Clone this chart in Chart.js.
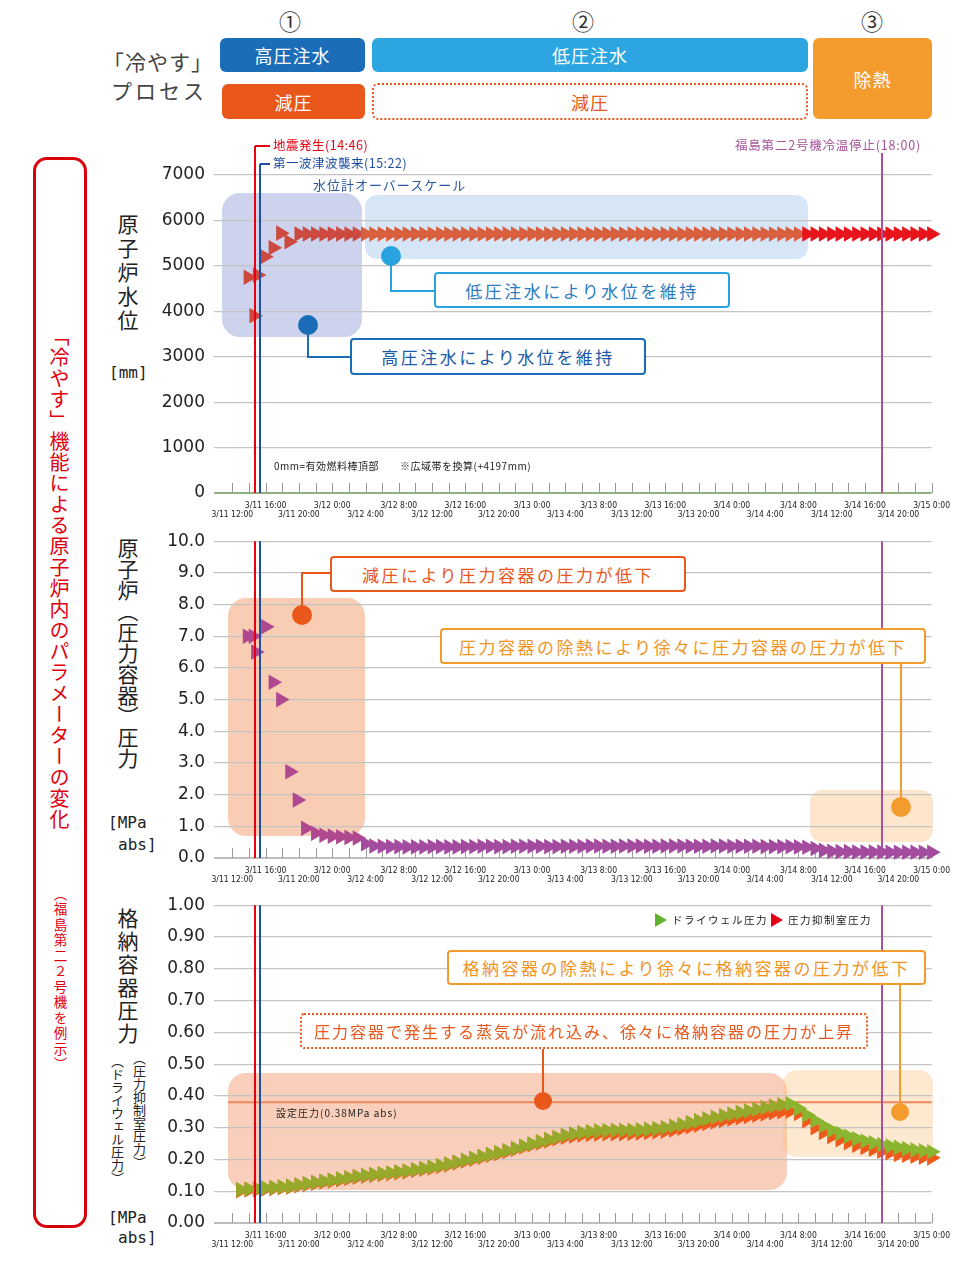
<!DOCTYPE html>
<html lang="ja">
<head>
<meta charset="utf-8">
<script src="https://cdn.jsdelivr.net/npm/chart.js@4.4.0/dist/chart.umd.min.js"></script>
<style>
body{margin:0;background:#fff;font-family:"Noto Sans CJK JP",sans-serif;}
#page{position:relative;width:980px;height:1274px;overflow:hidden;}
#page div{position:absolute;line-height:1;white-space:nowrap;}
canvas{position:absolute;z-index:1;}
.bg{z-index:0;}
.hb{color:#fff;font-size:18px;letter-spacing:1px;border-radius:6px;display:flex;align-items:center;justify-content:center;box-sizing:border-box;}
.cb{background:#fff;border:2px solid;border-radius:4px;font-size:17px;letter-spacing:2.5px;display:flex;align-items:center;justify-content:center;box-sizing:border-box;z-index:2;}
.vt{writing-mode:vertical-rl;text-orientation:mixed;}
.mono{font-family:"DejaVu Sans Mono",monospace;font-size:16px;color:#222;}
.dot{border-radius:50%;z-index:2;}
.ln{z-index:2;}
.sm{font-size:12.5px;letter-spacing:0.5px;z-index:2;}
</style>
</head>
<body>
<div id="page">
  <!-- header -->
  <div style="left:103px;top:51px;font-size:21px;color:#444;letter-spacing:1px;">「冷やす」</div>
  <div style="left:111px;top:80px;font-size:21px;color:#444;letter-spacing:3px;">プロセス</div>
  <div style="left:270px;top:9px;width:40px;text-align:center;font-size:22px;color:#333;">①</div>
  <div style="left:563px;top:9px;width:40px;text-align:center;font-size:22px;color:#333;">②</div>
  <div style="left:852px;top:9px;width:40px;text-align:center;font-size:22px;color:#333;">③</div>
  <div class="hb" style="left:220px;top:38px;width:145px;height:34px;background:#1b6db7;">高圧注水</div>
  <div class="hb" style="left:372px;top:38px;width:436px;height:34px;background:#2ca5e0;">低圧注水</div>
  <div class="hb" style="left:813px;top:38px;width:119px;height:81px;background:#f39b2d;">除熱</div>
  <div class="hb" style="left:222px;top:84px;width:143px;height:35px;background:#e9571b;">減圧</div>
  <div class="hb" style="left:372px;top:83px;width:436px;height:37px;background:#fff;border:2px dotted #e9571b;color:#e9571b;">減圧</div>

  <!-- left frame -->
  <div style="left:33px;top:157px;width:54px;height:1071px;border:3px solid #d9000d;border-radius:14px;box-sizing:border-box;"></div>
  <div class="vt" style="left:49px;top:326px;font-size:20px;color:#e0000f;letter-spacing:1px;">「冷やす」機能による原子炉内のパラメーターの変化</div>
  <div class="vt" style="left:53px;top:887px;font-size:13.5px;color:#e0000f;letter-spacing:2px;">（福島第二２号機を例示）</div>

  <!-- axis titles -->
  <div class="vt" style="left:117px;top:214px;font-size:21px;color:#222;letter-spacing:3px;">原子炉水位</div>
  <div class="mono" style="left:109px;top:365px;">[mm]</div>
  <div class="vt" style="left:117px;top:538px;font-size:21px;color:#222;">原子炉（圧力容器）圧力</div>
  <div class="mono" style="left:108px;top:815px;">[MPa</div>
  <div class="mono" style="left:118px;top:837px;">abs]</div>
  <div class="vt" style="left:117px;top:908px;font-size:21px;color:#222;letter-spacing:2px;">格納容器圧力</div>
  <div class="vt" style="left:133px;top:1052px;font-size:13px;color:#222;">（圧力抑制室圧力）</div>
  <div class="vt" style="left:111px;top:1055px;font-size:13px;color:#222;">（ドライウェル圧力）</div>
  <div class="mono" style="left:108px;top:1210px;">[MPa</div>
  <div class="mono" style="left:118px;top:1230px;">abs]</div>

  <!-- background regions -->
  <div class="bg" style="left:222px;top:193px;width:140px;height:144px;background:#cdd3ec;border-radius:18px;"></div>
  <div class="bg" style="left:365px;top:195px;width:443px;height:64px;background:#d7e6f6;border-radius:12px;"></div>
  <div class="bg" style="left:228px;top:598px;width:137px;height:238px;background:#f8cdb4;border-radius:18px;"></div>
  <div class="bg" style="left:810px;top:790px;width:123px;height:52px;background:#fde6cc;border-radius:12px;"></div>
  <div class="bg" style="left:228px;top:1073px;width:559px;height:117px;background:rgba(240,130,80,0.38);border-radius:18px;"></div>
  <div class="bg" style="left:783px;top:1070px;width:150px;height:87px;background:rgba(250,190,120,0.35);border-radius:14px;"></div>

  <canvas id="c1" width="800" height="396" style="left:150px;top:135px;"></canvas>
  <canvas id="c2" width="800" height="370" style="left:150px;top:526px;"></canvas>
  <canvas id="c3" width="800" height="371" style="left:150px;top:890px;"></canvas>

  <!-- chart 1 notes -->
  <div class="sm" style="left:273px;top:139px;color:#e60012;">地震発生(14:46)</div>
  <div class="sm" style="left:273px;top:157px;color:#1f4fa3;">第一波津波襲来(15:22)</div>
  <div class="sm" style="right:59px;top:139px;color:#a8529e;letter-spacing:0.8px;">福島第二2号機冷温停止(18:00)</div>
  <div class="sm" style="left:313px;top:178px;color:#2a56a0;font-size:13px;letter-spacing:1px;">水位計オーバースケール</div>
  <div class="sm" style="left:274px;top:461px;color:#222;font-size:10px;">0mm=有効燃料棒頂部</div>
  <div class="sm" style="left:400px;top:461px;color:#222;font-size:10px;">※広域帯を換算(+4197mm)</div>

  <div class="ln" style="left:390px;top:256px;width:2px;height:36px;background:#29a3df;"></div>
  <div class="ln" style="left:390px;top:290px;width:45px;height:2px;background:#29a3df;"></div>
  <div class="dot" style="left:381px;top:246px;width:20px;height:20px;background:#29a3df;"></div>
  <div class="cb" style="left:434px;top:272px;width:296px;height:36px;border-color:#29a3df;color:#2a7cc0;">低圧注水により水位を維持</div>

  <div class="ln" style="left:307px;top:325px;width:2px;height:33px;background:#1b6db7;"></div>
  <div class="ln" style="left:307px;top:356px;width:44px;height:2px;background:#1b6db7;"></div>
  <div class="dot" style="left:298px;top:315px;width:20px;height:20px;background:#1b6db7;"></div>
  <div class="cb" style="left:350px;top:338px;width:296px;height:37px;border-color:#1b6db7;color:#1b5aa5;">高圧注水により水位を維持</div>

  <!-- chart 2 notes -->
  <div class="ln" style="left:301px;top:572px;width:2px;height:43px;background:#e9571b;"></div>
  <div class="ln" style="left:301px;top:572px;width:30px;height:2px;background:#e9571b;"></div>
  <div class="dot" style="left:292px;top:605px;width:20px;height:20px;background:#e9571b;"></div>
  <div class="cb" style="left:330px;top:556px;width:356px;height:36px;border-color:#e9571b;color:#e9571b;">減圧により圧力容器の圧力が低下</div>

  <div class="ln" style="left:900px;top:663px;width:2px;height:144px;background:#f39b2d;"></div>
  <div class="dot" style="left:891px;top:797px;width:20px;height:20px;background:#f39b2d;"></div>
  <div class="cb" style="left:440px;top:628px;width:486px;height:36px;border-color:#f39b2d;color:#f0941f;">圧力容器の除熱により徐々に圧力容器の圧力が低下</div>

  <!-- chart 3 notes -->
  <div style="left:655px;top:913px;width:0;height:0;border-left:12px solid #62b22f;border-top:7px solid transparent;border-bottom:7px solid transparent;z-index:2;"></div>
  <div class="sm" style="left:672px;top:915px;color:#222;font-size:10.5px;letter-spacing:1.5px;">ドライウェル圧力</div>
  <div style="left:771px;top:913px;width:0;height:0;border-left:12px solid #e60012;border-top:7px solid transparent;border-bottom:7px solid transparent;z-index:2;"></div>
  <div class="sm" style="left:788px;top:915px;color:#222;font-size:10.5px;letter-spacing:1.5px;">圧力抑制室圧力</div>

  <div class="ln" style="left:899px;top:984px;width:2px;height:128px;background:#f39b2d;"></div>
  <div class="dot" style="left:891px;top:1103px;width:18px;height:18px;background:#f39b2d;"></div>
  <div class="cb" style="left:447px;top:950px;width:479px;height:35px;border-color:#f39b2d;color:#f0941f;">格納容器の除熱により徐々に格納容器の圧力が低下</div>

  <div class="ln" style="left:542px;top:1048px;width:2px;height:53px;background:#e9571b;"></div>
  <div class="dot" style="left:534px;top:1092px;width:18px;height:18px;background:#e9571b;"></div>
  <div class="cb" style="left:300px;top:1013px;width:568px;height:36px;border:2px dotted #e9571b;color:#e9571b;font-size:16px;letter-spacing:2px;">圧力容器で発生する蒸気が流れ込み、徐々に格納容器の圧力が上昇</div>
  <div class="sm" style="left:276px;top:1108px;color:#222;font-size:10px;letter-spacing:1px;">設定圧力(0.38MPa abs)</div>
</div>

<script>
// x values are hours after 3/11 12:00
var tickLabels = ['3/11 12:00', '3/11 16:00', '3/11 20:00', '3/12 0:00', '3/12 4:00', '3/12 8:00',
  '3/12 12:00', '3/12 16:00', '3/12 20:00', '3/13 0:00', '3/13 4:00', '3/13 8:00', '3/13 12:00',
  '3/13 16:00', '3/13 20:00', '3/14 0:00', '3/14 4:00', '3/14 8:00', '3/14 12:00', '3/14 16:00',
  '3/14 20:00', '3/15 0:00'];
var eventHours = [2.77, 3.37, 78]; // 14:46 quake, 15:22 tsunami, 3/14 18:00 cold shutdown

// reactor water level [mm]
var levelHours = [1.9, 2.6, 3.0, 3.9, 4.9, 5.8, 6.8];
var levelValues = [4750, 3900, 4800, 5200, 5400, 5720, 5530];
var levelHourlyFrom = 8;
var levelHourly = [
  5700, 5700, 5700, 5700, 5700, 5700, 5700, 5700, 5700, 5700,
  5700, 5700, 5700, 5700, 5700, 5700, 5700, 5700, 5700, 5700,
  5700, 5700, 5700, 5700, 5700, 5700, 5700, 5700, 5700, 5700,
  5700, 5700, 5700, 5700, 5700, 5700, 5700, 5700, 5700, 5700,
  5700, 5700, 5700, 5700, 5700, 5700, 5700, 5700, 5700, 5700,
  5700, 5700, 5700, 5700, 5700, 5700, 5700, 5700, 5700, 5700,
  5700, 5700, 5700, 5700, 5700, 5700, 5700, 5700, 5700, 5700,
  5700, 5700, 5700, 5700, 5700, 5700, 5700];

// reactor (pressure vessel) pressure [MPa abs]
var rpvHours = [1.8, 2.5, 2.8, 4.0, 4.9, 5.8, 6.9, 7.8, 8.8];
var rpvValues = [7.0, 7.0, 6.5, 7.3, 5.55, 5.0, 2.72, 1.83, 0.94];
var rpvHourlyFrom = 10;
var rpvHourly = [
  0.78, 0.72, 0.69, 0.67, 0.65, 0.63, 0.45, 0.38, 0.37, 0.36,
  0.36, 0.35, 0.35, 0.35, 0.36, 0.36, 0.35, 0.35, 0.36, 0.36,
  0.37, 0.37, 0.36, 0.36, 0.37, 0.37, 0.37, 0.37, 0.36, 0.36,
  0.37, 0.37, 0.37, 0.38, 0.38, 0.37, 0.37, 0.38, 0.38, 0.38,
  0.37, 0.37, 0.38, 0.38, 0.38, 0.37, 0.37, 0.37, 0.38, 0.38,
  0.37, 0.37, 0.37, 0.37, 0.36, 0.36, 0.36, 0.36, 0.35, 0.34,
  0.30, 0.24, 0.21, 0.20, 0.20, 0.19, 0.19, 0.19, 0.19, 0.18,
  0.18, 0.18, 0.18, 0.18, 0.18];

// containment pressure [MPa abs], hourly from 3/11 13:00
var pcvHourlyFrom = 1;
var drywell = [
  0.105, 0.107, 0.108, 0.110, 0.112, 0.114, 0.116, 0.120, 0.124, 0.128,
  0.132, 0.135, 0.139, 0.143, 0.147, 0.150, 0.153, 0.156, 0.158, 0.161,
  0.164, 0.168, 0.172, 0.176, 0.181, 0.186, 0.192, 0.198, 0.204, 0.210,
  0.216, 0.222, 0.228, 0.235, 0.242, 0.249, 0.256, 0.263, 0.270, 0.276,
  0.281, 0.285, 0.288, 0.290, 0.291, 0.292, 0.292, 0.292, 0.293, 0.295,
  0.297, 0.300, 0.305, 0.310, 0.316, 0.322, 0.328, 0.333, 0.338, 0.343,
  0.348, 0.353, 0.358, 0.363, 0.368, 0.372, 0.375, 0.360, 0.340, 0.322,
  0.306, 0.292, 0.282, 0.273, 0.265, 0.258, 0.252, 0.247, 0.242, 0.238,
  0.234, 0.230, 0.227, 0.224];
var wetwell = [
  0.102, 0.104, 0.105, 0.107, 0.109, 0.111, 0.113, 0.117, 0.121, 0.125,
  0.129, 0.132, 0.136, 0.140, 0.144, 0.147, 0.150, 0.153, 0.155, 0.158,
  0.161, 0.165, 0.169, 0.173, 0.178, 0.183, 0.189, 0.195, 0.201, 0.207,
  0.213, 0.219, 0.225, 0.232, 0.239, 0.246, 0.252, 0.258, 0.265, 0.270,
  0.274, 0.277, 0.279, 0.280, 0.281, 0.281, 0.281, 0.282, 0.283, 0.285,
  0.287, 0.289, 0.293, 0.298, 0.303, 0.308, 0.313, 0.318, 0.323, 0.327,
  0.331, 0.335, 0.339, 0.343, 0.347, 0.350, 0.352, 0.345, 0.322, 0.300,
  0.285, 0.272, 0.262, 0.253, 0.245, 0.238, 0.232, 0.226, 0.221, 0.216,
  0.213, 0.210, 0.207, 0.205];

function pts(hours, vals) {
  return vals.map(function (v, i) { return {x: hours[i], y: v}; });
}
function hourly(from, vals) {
  return vals.map(function (v, i) { return {x: from + i, y: v}; });
}

var lineColors = ['#e60012', '#1f4fa3', '#a8529e'];

var overlay = {
  id: 'overlay',
  beforeDatasetsDraw: function (chart, args, opts) {
    var ctx = chart.ctx, a = chart.chartArea, x = chart.scales.x, y = chart.scales.y;
    ctx.save();
    if (opts.setpoint != null) {
      var py = y.getPixelForValue(opts.setpoint);
      ctx.strokeStyle = '#f0875a';
      ctx.lineWidth = 2;
      ctx.beginPath();
      ctx.moveTo(a.left + 14, py);
      ctx.lineTo(a.right, py);
      ctx.stroke();
    }
    // small ticks inside the plot, every 2 hours
    ctx.strokeStyle = '#9a9a9a';
    ctx.lineWidth = 1;
    for (var h = 0; h <= 84; h += 2) {
      var px = Math.round(x.getPixelForValue(h)) + 0.5;
      ctx.beginPath();
      ctx.moveTo(px, a.bottom - 10);
      ctx.lineTo(px, a.bottom);
      ctx.stroke();
    }
    ctx.restore();
  },
  afterDatasetsDraw: function (chart, args, opts) {
    var ctx = chart.ctx, a = chart.chartArea, x = chart.scales.x;
    var ext = opts.ext || [0, 0, 0], br = opts.brackets || [0, 0, 0];
    ctx.save();
    ctx.lineWidth = 2;
    eventHours.forEach(function (h, i) {
      var px = Math.round(x.getPixelForValue(h));
      ctx.strokeStyle = lineColors[i];
      ctx.beginPath();
      ctx.moveTo(px, a.top - ext[i]);
      ctx.lineTo(px, a.bottom);
      if (br[i]) {
        ctx.moveTo(px, a.top - ext[i]);
        ctx.lineTo(px + br[i], a.top - ext[i]);
      }
      ctx.stroke();
    });
    ctx.restore();
  }
};

function config(datasets, yr, padTop, zeroColor, extra) {
  return {
    type: 'scatter',
    data: {datasets: datasets},
    options: {
      responsive: false,
      maintainAspectRatio: false,
      animation: false,
      devicePixelRatio: 1,
      layout: {padding: {top: padTop, right: 18, left: 0, bottom: 12}},
      plugins: {legend: {display: false}, tooltip: {enabled: false}, overlay: extra},
      scales: {
        x: {
          type: 'linear', min: -2.2, max: 84,
          grid: {display: false},
          border: {display: false},
          afterBuildTicks: function (s) {
            s.ticks = tickLabels.map(function (t, i) { return {value: i * 4}; });
          },
          afterFit: function (s) { s.height = 28; },
          ticks: {
            autoSkip: false, maxRotation: 0, minRotation: 0, padding: 0, color: '#222',
            font: {family: "'Liberation Sans Narrow', 'DejaVu Sans Condensed', sans-serif", size: 8.5, lineHeight: 1.1},
            callback: function (v) {
              var i = Math.round(v / 4);
              return i % 2 ? [tickLabels[i], ''] : ['', tickLabels[i]];
            }
          }
        },
        y: {
          min: yr.min, max: yr.max,
          afterFit: function (s) { s.width = 64; },
          border: {display: false},
          grid: {
            drawTicks: false,
            color: function (c) { return c.tick.value === 0 ? zeroColor : '#c4c4c4'; },
            lineWidth: function (c) { return c.tick.value === 0 ? 2 : 1.2; }
          },
          ticks: {
            stepSize: yr.step, padding: 9, color: '#222',
            font: {family: "'DejaVu Sans', sans-serif", size: 17},
            callback: function (v) { return Number(v).toFixed(yr.digits); }
          }
        }
      }
    },
    plugins: [overlay]
  };
}

function tri(data, color) {
  return {
    data: data, pointStyle: 'triangle', pointRotation: 90, pointRadius: 9, pointHoverRadius: 9,
    pointBorderWidth: 0, pointBorderColor: 'rgba(0,0,0,0)', pointBackgroundColor: color, clip: false
  };
}

// build a chart so that its plot area lands on the given page box
function build(id, makeCfg, L, T, R, B) {
  var cv = document.getElementById(id);
  var ch = new Chart(cv, makeCfg());
  for (var k = 0; k < 3; k++) {
    var a = ch.chartArea;
    var w = Math.round(cv.width + (R - L) - (a.right - a.left));
    var h = Math.round(cv.height + (B - T) - (a.bottom - a.top));
    if (w === cv.width && h === cv.height) break;
    ch.destroy();
    cv.width = w;
    cv.height = h;
    ch = new Chart(cv, makeCfg());
  }
  cv.style.left = Math.round(L - ch.chartArea.left) + 'px';
  cv.style.top = Math.round(T - ch.chartArea.top) + 'px';
  return ch;
}

build('c1', function () {
  return config([
    tri(pts(levelHours, levelValues).concat(hourly(levelHourlyFrom, levelHourly)), function (c) {
      var h = c.raw ? c.raw.x : 0;
      return h < 15.5 ? '#cc4a40' : (h < 68.9 ? '#d9603f' : '#e8141c');
    })
  ], {min: 0, max: 7000, step: 1000, digits: 0}, 40, '#8db07e', {ext: [29, 11, 22], brackets: [15, 10, 0]});
}, 214, 175, 932, 493);

build('c2', function () {
  return config([
    tri(pts(rpvHours, rpvValues).concat(hourly(rpvHourlyFrom, rpvHourly)), function (c) {
      var h = c.raw ? c.raw.x : 0;
      return h < 16 ? '#b0488f' : '#a34c9f';
    })
  ], {min: 0, max: 10, step: 1, digits: 1}, 15, '#bdbdbd', {});
}, 214, 541, 932, 858);

build('c3', function () {
  return config([
    tri(hourly(pcvHourlyFrom, drywell), function (c) {
      var h = c.raw ? c.raw.x : 0;
      return h < 66.5 ? '#96a92a' : '#8bb52e';
    }),
    tri(hourly(pcvHourlyFrom, wetwell), '#ef5a1c')
  ], {min: 0, max: 1, step: 0.1, digits: 2}, 15, '#bdbdbd', {setpoint: 0.38});
}, 214, 905, 932, 1223);
</script>
</body>
</html>
